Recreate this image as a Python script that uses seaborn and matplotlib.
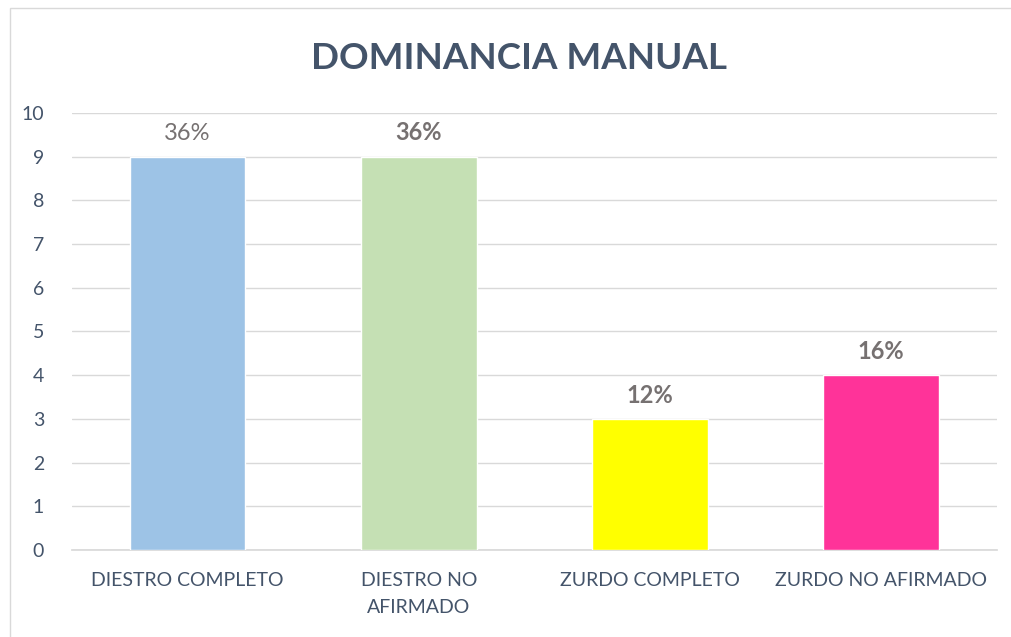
import matplotlib
matplotlib.use("Agg")
import matplotlib.pyplot as plt
import seaborn as sns
import pandas as pd
from matplotlib.patches import Rectangle

categories = ["DIESTRO COMPLETO", "DIESTRO NO\nAFIRMADO", "ZURDO COMPLETO", "ZURDO NO AFIRMADO"]
counts = [9, 9, 3, 4]
pct_labels = ["36%", "36%", "12%", "16%"]
bold_labels = [False, True, True, True]
colors = ["#9DC3E6", "#C5E0B4", "#FFFF00", "#FF3399"]
y_ticks = list(range(0, 11))

sns.set_theme(style="white")
plt.rcParams["font.family"] = ["Lato", "DejaVu Sans"]

df = pd.DataFrame({"cat": categories, "n": counts})

fig = plt.figure(figsize=(10.12, 6.37), dpi=100)
ax = fig.add_axes([0.0711, 0.1366, 0.9139, 0.686])

sns.barplot(data=df, x="cat", y="n", hue="cat", palette=colors, legend=False,
            width=0.5, saturation=1, ax=ax, zorder=3)

ax.set_ylim(0, 10)
ax.set_xlim(-0.5, 3.5)
ax.set_yticks(y_ticks)
ax.yaxis.grid(True, color="#D9D9D9", linewidth=1.0, zorder=0)
ax.xaxis.grid(False)
for s in ["top", "right", "left"]:
    ax.spines[s].set_visible(False)
ax.spines["bottom"].set_color("#D9D9D9")
ax.set_xlabel("")
ax.set_ylabel("")
ax.tick_params(axis="y", labelsize=14, length=0, pad=20)
ax.set_xticks(range(len(categories)))
ax.set_xticklabels(categories, fontsize=14, linespacing=1.7)
ax.tick_params(axis="x", length=0, pad=16)
for lbl in ax.get_yticklabels() + ax.get_xticklabels():
    lbl.set_color("#44546A")

for i, (v, t, b) in enumerate(zip(counts, pct_labels, bold_labels)):
    ax.text(i, v + 0.28, t, ha="center", va="bottom", fontsize=17,
            color="#767171", fontweight="bold" if b else "normal")

fig.text(0.513, 0.908, "DOMINANCIA MANUAL", ha="center", va="center",
         fontsize=26.5, fontweight="bold", color="#44546A")

fig.patches.append(Rectangle((0.0099, -0.01), 1.0, 0.997, transform=fig.transFigure,
                             fill=False, edgecolor="#D9D9D9", linewidth=1.0))

fig.savefig("out.png", dpi=100)
